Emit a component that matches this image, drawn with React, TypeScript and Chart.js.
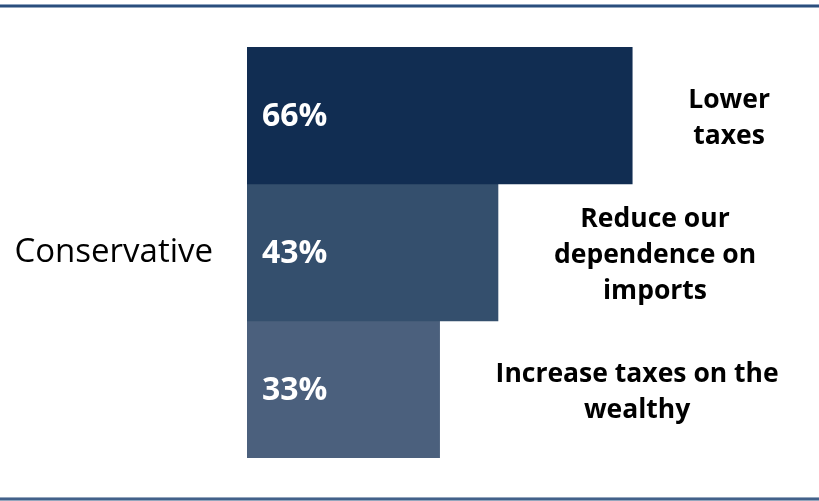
import React, { useEffect, useRef } from "react";
import { Chart, registerables } from "chart.js";

Chart.register(...registerables);

const categories = ["Conservative"];
const seriesNames = ["Lower taxes", "Reduce our dependence on imports", "Increase taxes on the wealthy"];
const seriesValues = [[66], [43], [33]];
const seriesLines = [["Lower", "taxes"], ["Reduce our", "dependence on", "imports"], ["Increase taxes on the", "wealthy"]];
const seriesColors = ["#112d52", "#344f6d", "#4b607d"];

const decorPlugin = {
  id: "decor",
  afterDatasetsDraw(chart: any) {
    const ctx = chart.ctx;
    const W = chart.width;
    const H = chart.height;
    ctx.save();
    // rules
    ctx.fillStyle = "#8ea3bf";
    ctx.fillRect(0, 4, W, 1);
    ctx.fillStyle = "#2a4e7d";
    ctx.fillRect(0, 5, W, 2.5);
    ctx.fillStyle = "#2a4e7d";
    ctx.fillRect(0, H - 3.5, W, 3);
    ctx.fillStyle = "#5a7598";
    ctx.fillRect(0, H - 2.5, W, 1);

    chart.data.datasets.forEach((ds: any, i: number) => {
      const meta = chart.getDatasetMeta(i);
      meta.data.forEach((bar: any, j: number) => {
        const v = ds.data[j];
        // value label inside
        ctx.font = "bold 32px 'Open Sans'";
        ctx.fillStyle = "#ffffff";
        ctx.textAlign = "left";
        ctx.textBaseline = "middle";
        ctx.fillText(v + "%", bar.base + 15, bar.y + 1);
        // annotation to the right
        const lines = seriesLines[i];
        ctx.font = "bold 26.5px 'Open Sans'";
        ctx.fillStyle = "#000000";
        ctx.textBaseline = "alphabetic";
        const widths = lines.map((l) => ctx.measureText(l).width);
        const maxW = Math.max(...widths);
        const left = bar.x + 56;
        const cx = left + maxW / 2;
        const lh = 36;
        const top = bar.y + 10.8 - ((lines.length - 1) * lh) / 2;
        ctx.textAlign = "center";
        lines.forEach((l, k) => ctx.fillText(l, cx, top + k * lh));
      });
    });
    ctx.restore();
  },
};

export default function App() {
  const ref = useRef<HTMLCanvasElement>(null);
  useEffect(() => {
    document.body.style.margin = "0";
    const chart = new Chart(ref.current!, {
      type: "bar",
      data: {
        labels: categories,
        datasets: seriesNames.map((n, i) => ({
          label: n,
          data: seriesValues[i],
          backgroundColor: seriesColors[i],
          borderWidth: 0,
          barPercentage: 1,
          categoryPercentage: 1,
        })),
      },
      options: {
        indexAxis: "y",
        animation: false,
        responsive: false,
        maintainAspectRatio: false,
        layout: { padding: { top: 47, bottom: 43, left: 0, right: 0 } },
        plugins: { legend: { display: false }, tooltip: { enabled: false } },
        scales: {
          x: { display: false, min: 0, max: 98 },
          y: {
            grid: { display: false },
            border: { display: false },
            ticks: { color: "#000", font: { family: "'Open Sans'", size: 33 }, padding: 26 },
            afterFit(scale: any) {
              scale.width = 247;
              scale.paddingTop = 0;
              scale.paddingBottom = 0;
            },
          },
        },
      },
      plugins: [decorPlugin],
    });
    return () => chart.destroy();
  }, []);
  return (
    <div style={{ width: 819, height: 501, position: "relative", background: "#fff" }}>
      <canvas ref={ref} width={819} height={501} />
    </div>
  );
}
